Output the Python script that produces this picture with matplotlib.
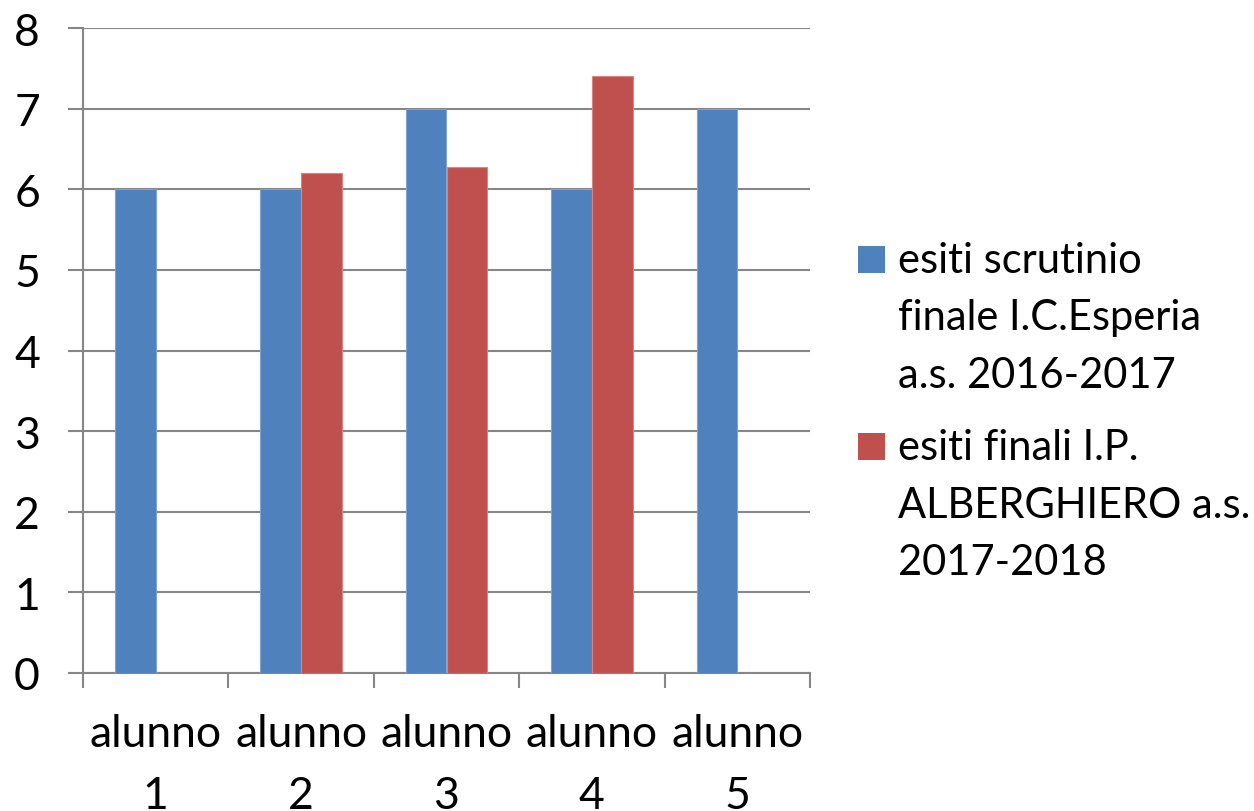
import numpy as np
import matplotlib
matplotlib.use("Agg")
import matplotlib.pyplot as plt
from matplotlib.patches import Rectangle

categories = ["alunno\n1", "alunno\n2", "alunno\n3", "alunno\n4", "alunno\n5"]
series_names = [["esiti scrutinio", "finale I.C.Esperia", "a.s. 2016-2017"],
                ["esiti finali I.P.", "ALBERGHIERO a.s.", "2017-2018"]]
esiti_scrutinio = [6, 6, 7, 6, 7]
esiti_finali = [np.nan, 6.2, 6.27, 7.4, np.nan]
y_ticks = [0, 1, 2, 3, 4, 5, 6, 7, 8]

blue = "#4F81BD"
red = "#C0504D"
grid = "#868686"
colors = [blue, red]

plt.rcParams['font.family'] = ['Lato', 'DejaVu Sans']

W, H = 1254, 812
fig = plt.figure(figsize=(W/100, H/100), dpi=100)
ax = fig.add_axes([83/W, 138/H, (810-83)/W, (674-29)/H])

x = np.arange(len(categories))
w = 0.28
ax.bar(x - w/2, esiti_scrutinio, w, color=blue, edgecolor="#7FA3D0", linewidth=0.8, zorder=3)
ax.bar(x + w/2, esiti_finali, w, color=red, edgecolor="#D98683", linewidth=0.8, zorder=3)

ax.set_xlim(-0.5, len(categories) - 0.5)
ax.set_ylim(0, 8)
ax.set_yticks(y_ticks)
ax.yaxis.grid(True, color=grid, linewidth=1.5, zorder=0)
ax.set_axisbelow(True)

for s in ["top", "right"]:
    ax.spines[s].set_visible(False)
for s in ["left", "bottom"]:
    ax.spines[s].set_color(grid)
    ax.spines[s].set_linewidth(1.5)

ax.tick_params(axis="y", length=11, width=1.5, color=grid, labelsize=32, pad=20, direction="out")
ax.set_xticks(np.arange(len(categories) + 1) - 0.5)
ax.set_xticklabels([])
ax.set_xticks(x, minor=True)
ax.set_xticklabels(categories, minor=True, fontsize=32, linespacing=1.63)
ax.tick_params(axis="x", which="major", length=11, width=1.5, color=grid, direction="out")
ax.tick_params(axis="x", which="minor", length=0, pad=29)

# legend, drawn by hand so that the swatch sits beside the first line
entry_top = [247, 434]
line_step = 57.5
for i, (lines, col) in enumerate(zip(series_names, colors)):
    top = entry_top[i]
    fig.patches.append(Rectangle((858/W, 1 - (top + 27)/H), 27/W, 27/H,
                                 transform=fig.transFigure, facecolor=col, edgecolor="none"))
    for j, line in enumerate(lines):
        base = top + 26 + j * line_step
        fig.text(898/W, 1 - base/H, line, fontsize=30, va="baseline", ha="left")

fig.savefig("out.png", dpi=100)
